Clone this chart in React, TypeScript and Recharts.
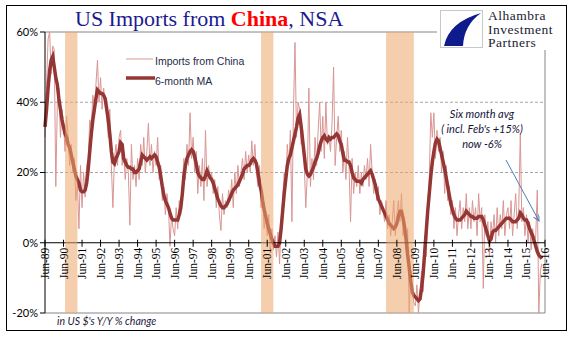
import React from "react";
import {
  LineChart,
  Line,
  XAxis,
  YAxis,
  ReferenceLine,
  ReferenceArea,
} from "recharts";

// monthly, starting Jun-89 (index 0)
const importsYoY = [
  30, 45, 58, 60, 48, 56, 55, 16, 40, 44, 30, 38,
  34, 26, 36, 30, 22, 28, 20, 24, 12, 17, 4, 22,
  10, 20, 13, 22, 24, 35, 33, 42, 38, 45, 52, 40,
  47, 38, 44, 40, 36, 30, 38, 22, 10, 24, 28, 22,
  30, 32, 22, 26, 18, 24, 20, 5, 28, 18, 22, 16,
  24, 18, 28, 22, 30, 20, 26, 34, 22, 28, 20, 26,
  22, 30, 18, 22, 12, 16, 8, 14, 10, -1, 8, 4,
  2, 10, 4, 12, 8, 16, 24, 18, 28, 22, 37, 24,
  30, 20, 26, 14, 22, 16, 24, 12, 32, 16, 22, 18,
  20, 14, 18, 10, 16, 8, 3.5, 14, 8, 12, 10, 15,
  12, 18, 10, 20, 14, 22, 16, 20, 24, 18, 26, 20,
  25, 20, 29, 22, 28, 20, 16, 22, 10, 14, 4, 8,
  2, 8, -3, 4, -2, 2, -4, 3, -6, 6, 12, 20,
  16, 28, 22, 32, 6, 38, 57, 30, 40, 38, 28, 32,
  22, 10, 20, 44, 16, 24, 18, 30, 22, 32, 40, 26,
  36, 24, 40, 28, 30, 26, 34, 50, 22, 30, 36, 26,
  32, 20, 26, 18, 30, 22, 6, 24, 14, 20, 16, 22,
  14, 20, 16, 22, 18, 24, 16, 28, 20, 14, 18, 12,
  16, 8, 12, 10, 6, 12, 4, 8, 2, 6, 12, 2,
  8, 12, 6, 14, 2, 6, -2, 4, -20, -8, -14, -17,
  -18, -12, -20, -14, -8, -14, 2, -4, 10, 18, 37, 30,
  37, 24, 32, 26, 30, 20, 26, 14, 22, 12, 16, 8,
  12, 4, 10, 2, 8, 12, 4, 10, 6, 14, 4, 10,
  4, 12, 6, 10, 2, 14, 6, 10, -13, 8, 2, 6,
  -4, 6, 2, 8, 0, 10, 2, 8, 4, 12, 2, 8,
  10, 4, 12, 2, 8, 14, 4, 10, 31, 6, 10, 2,
  8, 0, 6, -2, 4, 0, 2, 15, -20, -8, -6,
];

const movingAvg = [
  33, 38, 44, 49, 52, 53, 50, 47, 45, 41, 38, 35,
  33, 31, 30, 28, 27, 25, 23, 21, 19, 18, 17, 15,
  14.5, 14.5, 15, 17, 21, 26, 31, 35, 38, 41, 43.5, 43,
  42.5, 42.5, 42, 41, 38, 35, 31, 26, 23, 22.5, 24, 25,
  26, 28.5, 28, 24, 23, 22, 21.5, 21.5, 21, 21, 20, 20,
  20.5, 21, 23, 25, 24.5, 24, 23.5, 24, 24.5, 24, 24.5, 25,
  24.5, 23, 21.5, 19, 16, 13.5, 12, 11, 10, 8.5, 7, 6.5,
  6.5, 6.5, 6.5, 8, 10, 14, 19, 22, 24, 25, 26, 26.5,
  26, 24.5, 22.5, 20, 19, 18.5, 18, 18, 19, 20.5, 19.5, 18.5,
  18, 17, 15.5, 14, 12.5, 11.5, 10.5, 10, 10, 10.5, 11, 12,
  13, 14, 15, 15.5, 16, 16.5, 17.5, 18.5, 19.5, 21, 21.5, 22,
  22, 22.5, 23.5, 24, 23.5, 22.5, 20, 17, 15, 12, 9.5, 7.5,
  5.5, 4, 2.5, 1, 0, -1, -1, -1, 0, 4, 9, 14,
  18, 22, 24, 25, 27, 29, 31, 33, 35.5, 36.5, 33, 29,
  25, 21, 19.5, 19, 19.5, 20.5, 21.5, 23, 24, 25.5, 27.5, 29,
  30, 30.5, 29.5, 29, 30, 29.5, 30, 30, 30.5, 31, 30.5, 29,
  28, 25.5, 23.5, 23.5, 23, 23, 22, 20, 18.5, 18, 17.5, 17.5,
  17.5, 17, 18, 18.5, 19, 19.5, 20, 20.5, 19.5, 18, 16.5, 14.5,
  12.5, 11.5, 10.5, 9.5, 8.5, 7.5, 6.5, 5.5, 5, 4.5, 4, 4.5,
  5.5, 7.5, 9, 9, 7, 4.5, 1, -3.5, -7, -11, -14, -15,
  -15.5, -16, -16.5, -16, -13, -9, -3, 3, 9, 14, 19, 23,
  26, 28.5, 29.5, 29, 27, 25, 23, 21, 18.5, 16, 13.5, 11,
  9.5, 8, 7, 6.5, 6.5, 6.5, 7, 7.5, 8, 9, 8.5, 8,
  7.5, 7.5, 7, 7, 7, 7.5, 7.5, 7.5, 6.5, 5, 3.5, 2,
  0.5, 1, 3, 3.5, 3.5, 4, 4.5, 5, 5.5, 6, 6.5, 7,
  7, 7, 6.5, 6, 6, 6, 6.5, 7, 8.5, 8, 7, 6.5,
  6.5, 5.5, 4, 3, 2, 0.5, -1, -2.5, -3.5, -4, -4.5,
];

// x-axis: one tick per June, Jun-89 .. Jun-16
const tickYears = [
  "89", "90", "91", "92", "93", "94", "95", "96", "97", "98", "99", "00", "01", "02",
  "03", "04", "05", "06", "07", "08", "09", "10", "11", "12", "13", "14", "15", "16",
];
const yTicks = [-20, 0, 20, 40, 60];
const gridValues = [20, 40];

// recessions as month index from Jun-89
const recessions = [
  [13, 21],
  [140, 148],
  [221, 239],
];

const data = importsYoY.map((v, i) => ({ m: i, raw: v, ma: movingAvg[i] }));
const xTicks = tickYears.map((_, i) => i * 12);

const W = 577;
const H = 341;
const TOP = 32;
const PLOT_H = 281;
const Y_MIN = -20;
const Y_MAX = 60;
const zeroY = TOP + (PLOT_H * Y_MAX) / (Y_MAX - Y_MIN);

const XTick = (props: any) => {
  const { x, payload } = props;
  const label = "Jun-" + tickYears[Math.round(payload.value / 12)];
  return (
    <g>
      <line x1={x} x2={x} y1={zeroY - 3} y2={zeroY + 4} stroke="#000" />
      <text
        x={x}
        y={zeroY + 5}
        transform={`rotate(-90 ${x} ${zeroY + 5})`}
        textAnchor="end"
        dy="0.35em"
        fontFamily="'Liberation Serif', serif"
        fontSize={11.5}
        fill="#000"
      >
        {label}
      </text>
    </g>
  );
};

export default function App() {
  return (
    <div style={{ position: "absolute", left: 0, top: 0, width: W, height: H, background: "#fff" }}>
      <div
        style={{
          position: "absolute",
          left: 6,
          top: 5,
          width: 561,
          height: 326,
          border: "1px solid #000",
          boxSizing: "border-box",
        }}
      />
      <div style={{ position: "absolute", left: 0, top: 0 }}>
        <LineChart
          width={W}
          height={H}
          data={data}
          margin={{ top: TOP, right: 32, bottom: 27, left: 5 }}
        >
          <XAxis
            dataKey="m"
            type="number"
            domain={[0, 324]}
            ticks={xTicks}
            interval={0}
            axisLine={false}
            tickLine={false}
            height={1}
            tick={<XTick />}
          />
          <YAxis
            type="number"
            domain={[Y_MIN, Y_MAX]}
            ticks={yTicks}
            width={40}
            tickSize={5}
            tickFormatter={(v) => `${v}%`}
            axisLine={{ stroke: "#000" }}
            tickLine={{ stroke: "#000" }}
            tick={{ fontSize: 11, fill: "#000", fontFamily: "Lato, sans-serif" }}
          />
          {gridValues.map((g) => (
            <ReferenceLine key={g} y={g} stroke="#a6a6a6" strokeDasharray="3 2" />
          ))}
          <ReferenceLine y={Y_MAX} stroke="#868686" />
          <ReferenceLine y={Y_MIN} stroke="#868686" />
          <ReferenceLine x={324} stroke="#868686" />
          <Line
            dataKey="raw"
            stroke="#d99694"
            strokeWidth={1}
            dot={false}
            isAnimationActive={false}
          />
          <Line
            dataKey="ma"
            stroke="#943634"
            strokeWidth={3.5}
            dot={false}
            isAnimationActive={false}
          />
          {recessions.map(([a, b]) => (
            <ReferenceArea
              key={a}
              x1={a}
              x2={b}
              y1={Y_MIN}
              y2={Y_MAX}
              fill="#eda66c"
              fillOpacity={0.55}
              stroke="none"
              zIndex={900}
            />
          ))}
          <ReferenceLine y={0} stroke="#000" />
        </LineChart>
      </div>

      {/* title */}
      <div
        style={{
          position: "absolute",
          left: 75,
          top: 6,
          fontFamily: "'Liberation Serif', serif",
          fontSize: 22,
          color: "#1b1b8f",
          whiteSpace: "nowrap",
        }}
      >
        US Imports from <b style={{ color: "#ff0000" }}>China</b>, NSA
      </div>

      {/* logo */}
      <div style={{ position: "absolute", left: 437, top: 7, width: 124, height: 43, background: "#fff" }}>
        <svg width={44} height={40} style={{ position: "absolute", left: 3, top: 3 }}>
          <rect x={0.5} y={0.5} width={42} height={37} fill="#fff" stroke="#c8c8c8" />
          <path d="M41 3 Q9 12 4 36 L23 36 Q24 15 41 3 Z" fill="#0d1b8c" />
        </svg>
        {["Alhambra", "Investment", "Partners"].map((t, i) => (
          <div
            key={t}
            style={{
              position: "absolute",
              left: 51,
              top: 2 + i * 13.5,
              height: 13.5,
              fontFamily: "'Liberation Serif', serif",
              fontSize: 13.5,
              lineHeight: "13.5px",
              letterSpacing: 0.5,
              color: "#1a1a33",
              whiteSpace: "nowrap",
            }}
          >
            {t}
          </div>
        ))}
      </div>

      {/* legend */}
      <svg width={40} height={30} style={{ position: "absolute", left: 120, top: 50 }}>
        <line x1={6} x2={33} y1={9} y2={9} stroke="#d99694" strokeWidth={1} />
        <line x1={6} x2={35} y1={28} y2={28} stroke="#943634" strokeWidth={3.5} />
      </svg>
      <div
        style={{
          position: "absolute",
          left: 155,
          top: 52,
          fontFamily: "'Liberation Sans', Arial, sans-serif",
          fontSize: 10.5,
          lineHeight: "19.5px",
          color: "#1f2a4a",
          whiteSpace: "nowrap",
        }}
      >
        Imports from China
        <br />
        6-month MA
      </div>

      {/* annotation */}
      <div
        style={{
          position: "absolute",
          left: 422,
          top: 106,
          width: 120,
          textAlign: "center",
          fontFamily: "Lato, sans-serif",
          fontStyle: "italic",
          fontSize: 11,
          lineHeight: "15px",
          color: "#14143a",
        }}
      >
        Six month avg
        <br />( incl. Feb's +15%)
        <br />
        now -6%
      </div>
      <svg width={W} height={H} style={{ position: "absolute", left: 0, top: 0, pointerEvents: "none" }}>
        <defs>
          <marker id="arr" markerWidth={8} markerHeight={8} refX={6} refY={3} orient="auto">
            <path d="M0 0 L6 3 L0 6" fill="none" stroke="#4a7ebb" strokeWidth={1} />
          </marker>
        </defs>
        <line x1={506} y1={160} x2={539} y2={221} stroke="#4a7ebb" strokeWidth={1} markerEnd="url(#arr)" />
      </svg>

      {/* note */}
      <div
        style={{
          position: "absolute",
          left: 57,
          top: 315,
          fontFamily: "Lato, sans-serif",
          fontStyle: "italic",
          fontSize: 10.5,
          color: "#1b1b3a",
          whiteSpace: "nowrap",
        }}
      >
        in US $'s Y/Y % change
      </div>
    </div>
  );
}
